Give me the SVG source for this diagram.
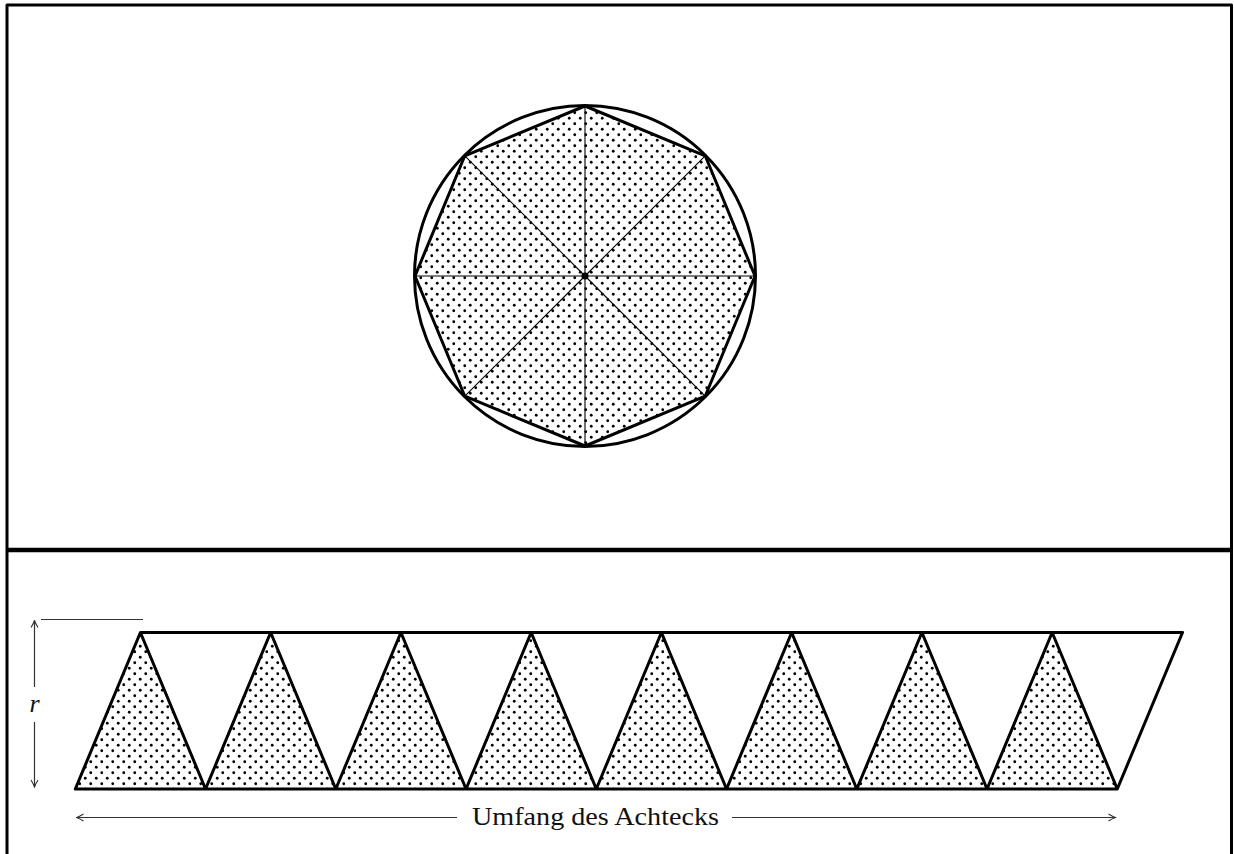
<svg xmlns="http://www.w3.org/2000/svg" width="1234" height="854" viewBox="0 0 1234 854">
<defs>
<pattern id="dots" patternUnits="userSpaceOnUse" width="11" height="11">
<circle cx="2.75" cy="2.75" r="1.4" fill="#000"/>
<circle cx="8.25" cy="8.25" r="1.4" fill="#000"/>
</pattern>
<marker id="ah" viewBox="0 0 10 10" refX="9" refY="5" markerWidth="10" markerHeight="10" markerUnits="userSpaceOnUse" orient="auto">
<path d="M2,1.5 Q6,4 9,5 Q6,6 2,8.5" fill="none" stroke="#333" stroke-width="1.1"/>
</marker>
<style>
.thick{fill:none;stroke:#000;stroke-width:3;stroke-linejoin:round}
.thin{stroke:#000;stroke-width:1.1}
.dim{fill:none;stroke:#333;stroke-width:1.2}
.lbl{font-family:"Liberation Serif","DejaVu Serif",serif;fill:#111}
</style>
</defs>
<rect width="1234" height="854" fill="#fff"/>
<g id="frame">
<path d="M7,854 V5 H1231.5 V854" class="thick" stroke-width="3"/>
<line x1="6" y1="550" x2="1232" y2="550" stroke="#000" stroke-width="4.6"/>
</g>
<g id="octagon">
<polygon points="755,276 705.2,155.8 585,106 464.8,155.8 415,276 464.8,396.2 585,446 705.2,396.2" fill="url(#dots)" stroke="none"/>
<g class="thin">
<line x1="585" y1="276" x2="755" y2="276"/>
<line x1="585" y1="276" x2="705.2" y2="155.8"/>
<line x1="585" y1="276" x2="585" y2="106"/>
<line x1="585" y1="276" x2="464.8" y2="155.8"/>
<line x1="585" y1="276" x2="415" y2="276"/>
<line x1="585" y1="276" x2="464.8" y2="396.2"/>
<line x1="585" y1="276" x2="585" y2="446"/>
<line x1="585" y1="276" x2="705.2" y2="396.2"/>
</g>
<polygon points="755,276 705.2,155.8 585,106 464.8,155.8 415,276 464.8,396.2 585,446 705.2,396.2" class="thick"/>
<circle cx="585" cy="276" r="170.5" class="thick"/>
<circle cx="585" cy="276" r="3.6" fill="#000"/>
</g>
<g id="strip">
<g fill="url(#dots)" stroke="none">
<polygon points="75.3,789 205.55,789 140.4,632.5"/>
<polygon points="205.55,789 335.8,789 270.65,632.5"/>
<polygon points="335.8,789 466.05,789 400.9,632.5"/>
<polygon points="466.05,789 596.3,789 531.15,632.5"/>
<polygon points="596.3,789 726.55,789 661.4,632.5"/>
<polygon points="726.55,789 856.8,789 791.65,632.5"/>
<polygon points="856.8,789 987.05,789 921.9,632.5"/>
<polygon points="987.05,789 1117.3,789 1052.15,632.5"/>
</g>
<polyline class="thick" points="140.4,632.5 75.3,789 1117.3,789 1182.5,632.5 140.4,632.5 205.55,789 270.65,632.5 335.8,789 400.9,632.5 466.05,789 531.15,632.5 596.3,789 661.4,632.5 726.55,789 791.65,632.5 856.8,789 921.9,632.5 987.05,789 1052.15,632.5 1117.3,789"/>
</g>
<g id="connectors">
<line x1="41" y1="619.5" x2="143" y2="619.5" class="dim"/>
<line x1="34.5" y1="687" x2="34.5" y2="620.5" class="dim" marker-end="url(#ah)"/>
<line x1="34.5" y1="722" x2="34.5" y2="787" class="dim" marker-end="url(#ah)"/>
<line x1="457" y1="817.5" x2="76.5" y2="817.5" class="dim" marker-end="url(#ah)"/>
<line x1="732" y1="817.5" x2="1115.5" y2="817.5" class="dim" marker-end="url(#ah)"/>
</g>
<g id="labels">
<text x="34.5" y="712" class="lbl" font-size="26" font-style="italic" text-anchor="middle">r</text>
<text x="472" y="825" class="lbl" font-size="25" textLength="247" lengthAdjust="spacingAndGlyphs">Umfang des Achtecks</text>
</g>
</svg>
